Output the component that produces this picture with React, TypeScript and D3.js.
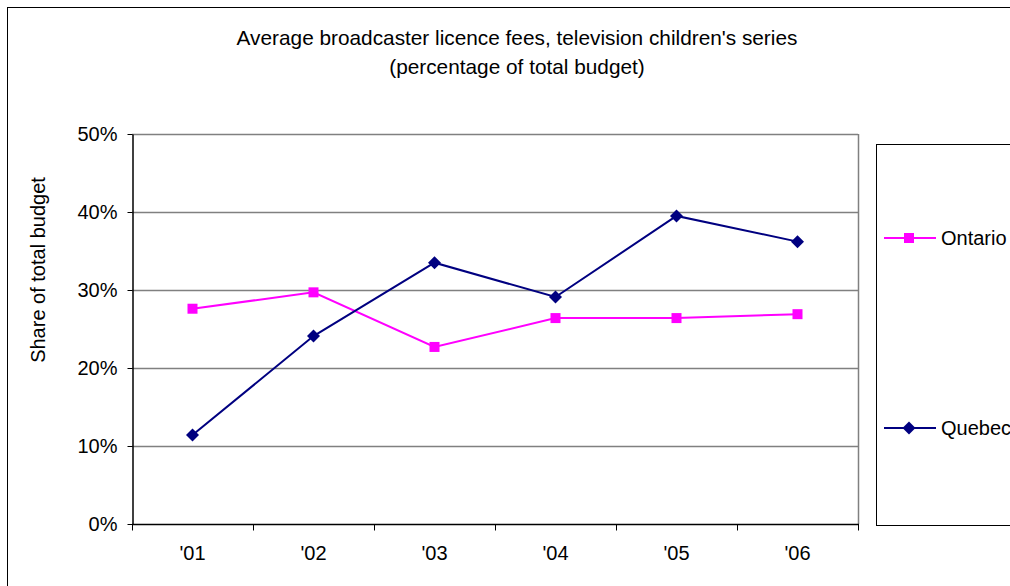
import React, { useEffect, useRef } from "react";
import * as d3 from "d3";

const years = ["'01", "'02", "'03", "'04", "'05", "'06"];
const ontario = [27.6, 29.7, 22.7, 26.4, 26.4, 26.9];
const quebec = [11.4, 24.1, 33.5, 29.1, 39.5, 36.2];
const yTicks = [0, 10, 20, 30, 40, 50];
const titleLines = [
  "Average broadcaster licence fees, television children's series",
  "(percentage of total budget)",
];

const W = 1010;
const H = 586;
const FONT = "'Liberation Sans', Arial, sans-serif";

const App = () => {
  const ref = useRef(null);

  useEffect(() => {
    const svg = d3.select(ref.current);
    svg.selectAll("*").remove();

    const plot = { left: 132, right: 858, top: 134, bottom: 524 };

    // outer chart border (runs off the right/bottom edge like the source)
    svg
      .append("rect")
      .attr("x", 7.5)
      .attr("y", 7.5)
      .attr("width", 1100)
      .attr("height", 700)
      .attr("fill", "white")
      .attr("stroke", "black")
      .attr("stroke-width", 1);

    // title
    svg
      .append("g")
      .selectAll("text")
      .data(titleLines)
      .join("text")
      .attr("x", 517)
      .attr("y", (d, i) => 45 + i * 29)
      .attr("text-anchor", "middle")
      .style("font-family", FONT)
      .style("font-size", "20.8px")
      .text((d) => d);

    const x = d3
      .scaleBand()
      .domain(years)
      .range([plot.left, plot.right]);
    const y = d3.scaleLinear().domain([0, 50]).range([plot.bottom, plot.top]);

    // gridlines
    svg
      .append("g")
      .selectAll("line")
      .data(yTicks.filter((t) => t > 0))
      .join("line")
      .attr("x1", plot.left)
      .attr("x2", plot.right)
      .attr("y1", (d) => Math.round(y(d)) + 0.5)
      .attr("y2", (d) => Math.round(y(d)) + 0.5)
      .attr("stroke", "#808080")
      .attr("stroke-width", 1.5);

    // right plot border
    svg
      .append("line")
      .attr("x1", plot.right + 0.5)
      .attr("x2", plot.right + 0.5)
      .attr("y1", plot.top)
      .attr("y2", plot.bottom)
      .attr("stroke", "#808080")
      .attr("stroke-width", 1.5);

    // y axis
    const yAxis = svg
      .append("g")
      .attr("transform", `translate(${plot.left + 0.5},0)`)
      .call(
        d3
          .axisLeft(y)
          .tickValues(yTicks)
          .tickFormat((d) => d + "%")
          .tickSize(5)
          .tickSizeOuter(0)
      );
    yAxis.select(".domain").attr("stroke", "black").attr("stroke-width", 1.5);
    yAxis.selectAll(".tick line").attr("stroke", "black");
    yAxis
      .selectAll(".tick text")
      .attr("x", -15)
      .style("font-family", FONT)
      .style("font-size", "20px")
      .attr("fill", "black");

    // x axis with ticks at band boundaries
    const xAxis = svg
      .append("g")
      .attr("transform", `translate(0,${plot.bottom + 0.5})`);
    xAxis
      .append("line")
      .attr("x1", plot.left)
      .attr("x2", plot.right + 1)
      .attr("stroke", "black")
      .attr("stroke-width", 1.5);
    const bounds = years.map((d) => x(d)).concat([plot.right]);
    xAxis
      .selectAll("line.tk")
      .data(bounds)
      .join("line")
      .attr("class", "tk")
      .attr("x1", (d) => Math.round(d) + 0.5)
      .attr("x2", (d) => Math.round(d) + 0.5)
      .attr("y1", 0)
      .attr("y2", 6)
      .attr("stroke", "black");
    xAxis
      .selectAll("text")
      .data(years)
      .join("text")
      .attr("x", (d) => x(d) + x.bandwidth() / 2)
      .attr("y", 35.5)
      .attr("text-anchor", "middle")
      .style("font-family", FONT)
      .style("font-size", "20px")
      .text((d) => d);

    // y axis label
    svg
      .append("text")
      .attr("transform", `translate(45,${(plot.top + plot.bottom) / 2 - 59}) rotate(-90)`)
      .attr("text-anchor", "middle")
      .style("font-family", FONT)
      .style("font-size", "20px")
      .text("Share of total budget");

    const cx = (i) => x(years[i]) + x.bandwidth() / 2;
    const line = d3
      .line()
      .x((d, i) => cx(i))
      .y((d) => y(d));

    const series = [
      { name: "Ontario", values: ontario, color: "#FF00FF", shape: "square", ly: 238 },
      { name: "Quebec", values: quebec, color: "#000080", shape: "diamond", ly: 428 },
    ];

    const drawMarker = (g, shape, color, px, py) => {
      if (shape === "square") {
        g.append("rect")
          .attr("x", px - 5)
          .attr("y", py - 5)
          .attr("width", 10)
          .attr("height", 10)
          .attr("fill", color);
      } else {
        g.append("path")
          .attr("d", `M${px},${py - 6.5}L${px + 6.5},${py}L${px},${py + 6.5}L${px - 6.5},${py}Z`)
          .attr("fill", color);
      }
    };

    series.forEach((s) => {
      const g = svg.append("g");
      g.append("path")
        .datum(s.values)
        .attr("fill", "none")
        .attr("stroke", s.color)
        .attr("stroke-width", 2)
        .attr("d", line);
      s.values.forEach((v, i) => drawMarker(g, s.shape, s.color, cx(i), y(v)));
    });

    // legend
    const lg = svg.append("g");
    lg.append("rect")
      .attr("x", 876.5)
      .attr("y", 144.5)
      .attr("width", 300)
      .attr("height", 381)
      .attr("fill", "white")
      .attr("stroke", "black")
      .attr("stroke-width", 1);
    series.forEach((s) => {
      lg.append("line")
        .attr("x1", 884)
        .attr("x2", 936)
        .attr("y1", s.ly)
        .attr("y2", s.ly)
        .attr("stroke", s.color)
        .attr("stroke-width", 2);
      drawMarker(lg, s.shape, s.color, 909, s.ly);
      lg.append("text")
        .attr("x", 941)
        .attr("y", s.ly + 7)
        .style("font-family", FONT)
        .style("font-size", "20px")
        .text(s.name);
    });
  }, []);

  return (
    <svg
      ref={ref}
      width={W}
      height={H}
      style={{ position: "absolute", left: 0, top: 0, background: "white" }}
    />
  );
};

export default App;
